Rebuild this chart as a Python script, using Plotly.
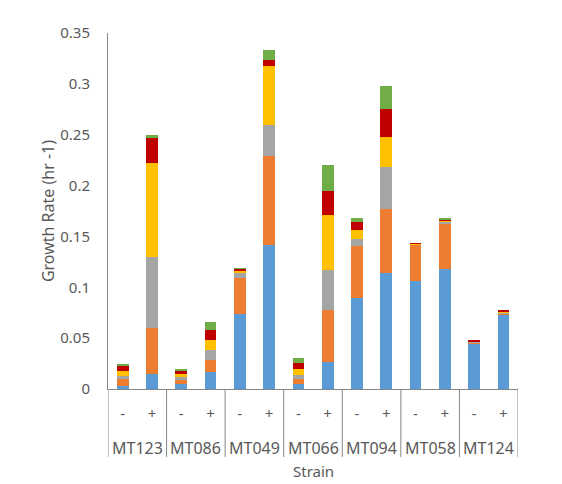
import plotly.graph_objects as go

strains = ["MT123", "MT086", "MT049", "MT066", "MT094", "MT058", "MT124"]
treatments = ["-", "+"]

# one slot per bar, labelled with the treatment sign
tick_labels = [t for s in strains for t in treatments]
x_pos = list(range(len(tick_labels)))

# stacked components (bottom to top)
blue = [0.0026, 0.015, 0.0052, 0.0167, 0.0735, 0.142, 0.0052, 0.0265, 0.0899, 0.114, 0.106, 0.118, 0.044, 0.0725]
orange = [0.0069, 0.045, 0.0039, 0.0114, 0.036, 0.087, 0.0042, 0.051, 0.0503, 0.063, 0.036, 0.045, 0.002, 0.002]
gray = [0.003, 0.07, 0.0026, 0.0105, 0.005, 0.0304, 0.0042, 0.0395, 0.0075, 0.0415, 0.0005, 0.001, 0.0003, 0.001]
yellow = [0.0052, 0.0925, 0.0033, 0.0098, 0.0015, 0.058, 0.0065, 0.054, 0.0082, 0.0294, 0.0005, 0.002, 0.0005, 0.001]
red = [0.0046, 0.024, 0.0033, 0.0092, 0.002, 0.0065, 0.0056, 0.0235, 0.0082, 0.0275, 0.0005, 0.001, 0.001, 0.001]
green = [0.002, 0.0035, 0.0016, 0.0078, 0.0005, 0.0092, 0.0049, 0.0258, 0.0036, 0.0229, 0.0, 0.0003, 0.0, 0.0]

series = [
    ("Series 1", blue, "#5B9BD5"),
    ("Series 2", orange, "#ED7D31"),
    ("Series 3", gray, "#A5A5A5"),
    ("Series 4", yellow, "#FFC000"),
    ("Series 5", red, "#C00000"),
    ("Series 6", green, "#70AD47"),
]

font_color = "#595959"
line_color = "#868686"

fig = go.Figure()
for name, vals, color in series:
    fig.add_trace(go.Bar(
        x=x_pos,
        y=vals,
        name=name,
        marker=dict(color=color, line=dict(width=0)),
    ))

# group dividers under the axis and strain names
n = len(treatments)
for i, s in enumerate(strains):
    fig.add_shape(type="line", xref="x", yref="paper",
                  x0=i * n - 0.5, x1=i * n - 0.5, y0=0, y1=-0.191,
                  line=dict(color=line_color, width=1))
    fig.add_annotation(x=i * n + (n - 1) / 2, xref="x", y=0, yref="paper",
                       text=s, showarrow=False, yanchor="middle", yshift=-59,
                       font=dict(size=16, color=font_color))
fig.add_shape(type="line", xref="x", yref="paper",
              x0=len(x_pos) - 0.5, x1=len(x_pos) - 0.5, y0=0, y1=-0.191,
              line=dict(color=line_color, width=1))
fig.add_annotation(x=0.5, xref="paper", y=0, yref="paper", text="Strain",
                   showarrow=False, yanchor="middle", yshift=-82,
                   font=dict(size=15, color=font_color))

fig.update_layout(
    barmode="stack",
    bargap=0.6,
    width=562,
    height=484,
    margin=dict(l=100, r=52, t=25, b=103),
    plot_bgcolor="white",
    paper_bgcolor="white",
    showlegend=False,
    font=dict(family="Noto Sans", size=15, color=font_color),
)
fig.update_yaxes(
    range=[0, 0.35],
    dtick=0.05,
    tickformat="~g",
    showgrid=False,
    zeroline=False,
    showline=True,
    linecolor=line_color,
    linewidth=1,
    ticks="outside",
    ticklen=14,
    tickcolor="rgba(0,0,0,0)",
    title=dict(text="Growth Rate (hr -1)", font=dict(size=16, color=font_color), standoff=1),
)
fig.update_xaxes(
    range=[-0.5, len(x_pos) - 0.5],
    tickvals=x_pos,
    ticktext=tick_labels,
    showgrid=False,
    showline=True,
    linecolor=line_color,
    linewidth=1,
    ticks="outside",
    ticklen=11,
    tickcolor="rgba(0,0,0,0)",
    tickfont=dict(size=15, color=font_color),
)

fig.write_html("out.html")
